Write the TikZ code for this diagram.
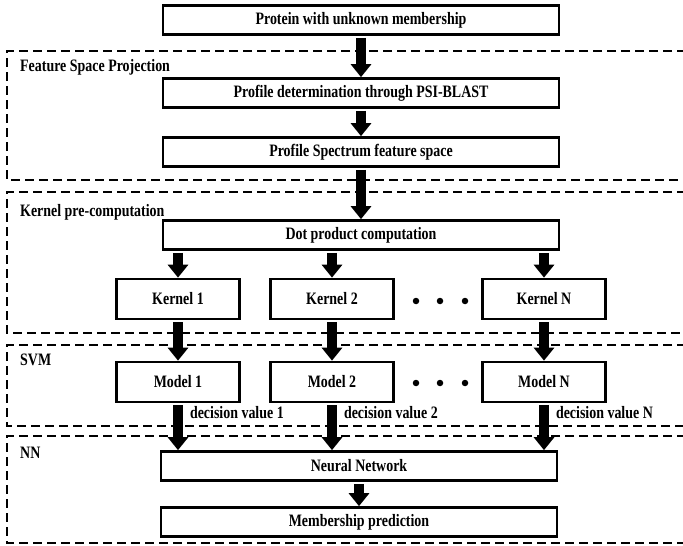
\documentclass[tikz,border=0pt]{standalone}
\usepackage{fontspec}
\setmainfont{Liberation Serif}[FakeStretch=0.8]
\usetikzlibrary{arrows.meta}
\begin{document}
\begin{tikzpicture}[x=1bp,y=-1bp,
  txt/.style={font=\fontsize{17.5}{19}\selectfont\bfseries},
  box/.style={txt, draw, line width=2.7bp, inner sep=0pt, fill=white},
  wide/.style={box, minimum width=396bp, minimum height=29bp},
  small/.style={box, minimum width=123bp, minimum height=40bp},
  region/.style={line width=1.9bp, dash pattern=on 9bp off 5bp},
  fat/.style={line width=10bp, -{Triangle[width=20bp,length=13bp]}, shorten <=2bp},
  tag/.style={txt, anchor=west, inner sep=0pt},
  dot/.style={circle, fill=black, inner sep=0pt, minimum size=6.5bp}]
\useasboundingbox[fill=white] (0,0) rectangle (683,546);
\clip (0,0) rectangle (683,546);

% dashed stage frames (open to the right)
\draw[region] (700,51) -- (7,51) -- (7,180) -- (700,180);
\draw[region] (700,192) -- (7,192) -- (7,333) -- (700,333);
\draw[region] (700,345) -- (7,345) -- (7,426) -- (700,426);
\draw[region] (700,436) -- (7,436) -- (7,543) -- (700,543);

% stage titles
\node[tag] (tfsp) at (20,67) {Feature Space Projection};
\node[tag] (tkpc) at (20,212) {Kernel pre-computation};
\node[tag] (tsvm) at (20,360) {SVM};
\node[tag] (tnn)  at (20,453) {NN};

% boxes
\node[wide] (prot) at (361,20)    {Protein with unknown membership};
\node[wide] (pdet) at (361,93)    {Profile determination through PSI-BLAST};
\node[wide] (pspc) at (361,152)   {Profile Spectrum feature space};
\node[wide] (dotp) at (361,235)   {Dot product computation};

\node[small] (k1) at (178,299) {Kernel 1};
\node[small] (k2) at (332,299) {Kernel 2};
\node[small] (kn) at (544,299) {Kernel N};

\node[small] (m1) at (178,382) {Model 1};
\node[small] (m2) at (332,382) {Model 2};
\node[small] (mn) at (544,382) {Model N};

\node[wide] (nnet) at (359,466) {Neural Network};
\node[wide] (memb) at (359,522) {Membership prediction};

% ellipses between columns
\node[dot] (kd1) at (416,301) {};
\node[dot] (kd2) at (440,301) {};
\node[dot] (kd3) at (465,301) {};
\node[dot] (md1) at (416,383) {};
\node[dot] (md2) at (440,383) {};
\node[dot] (md3) at (465,383) {};

% flow arrows
\draw[fat] (prot) -- (pdet);
\draw[fat] (pdet) -- (pspc);
\draw[fat] (pspc) -- (dotp);
\draw[fat] (dotp.south -| k1) -- (k1);
\draw[fat] (dotp.south -| k2) -- (k2);
\draw[fat] (dotp.south -| kn) -- (kn);
\draw[fat] (k1) -- (m1);
\draw[fat] (k2) -- (m2);
\draw[fat] (kn) -- (mn);
\draw[fat] (m1) -- (m1 |- nnet.north) node[pos=0.2, tag, xshift=7bp] (dv1) {decision value 1};
\draw[fat] (m2) -- (m2 |- nnet.north) node[pos=0.2, tag, xshift=7bp] (dv2) {decision value 2};
\draw[fat] (mn) -- (mn |- nnet.north) node[pos=0.2, tag, xshift=7bp] (dvn) {decision value N};
\draw[fat] (nnet) -- (memb);
\end{tikzpicture}
\end{document}
